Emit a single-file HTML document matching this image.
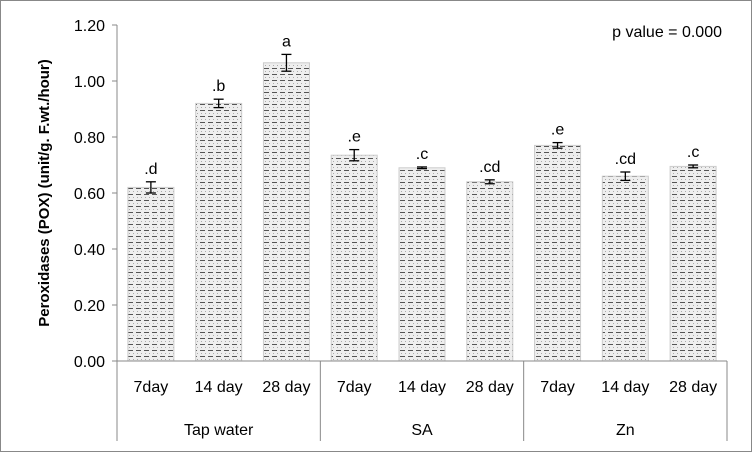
<!DOCTYPE html>
<html><head><meta charset="utf-8"><style>
body{margin:0;background:#fff}
svg{display:block;font-family:"Liberation Sans",Calibri,sans-serif}
</style></head><body>
<svg width="752" height="452" viewBox="0 0 752 452">
<defs>
<pattern id="dash" width="8" height="6" patternUnits="userSpaceOnUse">
<rect width="8" height="6" fill="#eeeeee"/>
<line x1="0" y1="2.5" x2="5" y2="2.5" stroke="#555" stroke-width="1"/>
<rect x="1" y="5" width="1" height="1" fill="#aaa"/><rect x="5" y="5" width="1" height="1" fill="#aaa"/>
</pattern>
</defs>
<rect x="0.5" y="0.5" width="751" height="451" fill="#fff" stroke="#888"/>
<g id="yaxis"></g><g id="bars"></g><g id="xaxis"></g>
<text x="722" y="37" font-size="16" text-anchor="end">p value = 0.000</text>
<text transform="translate(49,193) rotate(-90)" font-size="15" font-weight="bold" text-anchor="middle">Peroxidases (POX) (unit/g. F.wt./hour)</text>
</svg>
<script>
const categories=["7day","14 day","28 day","7day","14 day","28 day","7day","14 day","28 day"];
const groups=["Tap water","SA","Zn"];
const values=[0.62,0.92,1.065,0.735,0.69,0.64,0.77,0.66,0.695];
const errors=[0.02,0.015,0.03,0.02,0.003,0.007,0.01,0.015,0.005];
const letters=[".d",".b","a",".e",".c",".cd",".e",".cd",".c"];
const yTicks=[0,0.2,0.4,0.6,0.8,1.0,1.2];
const NS="http://www.w3.org/2000/svg";
const x0=117,x1=727,y0=361,y1=25,ymax=1.2;
const y=v=>y0-(v/ymax)*(y0-y1);
const cw=(x1-x0)/categories.length;
const cx=i=>x0+cw*(i+0.5);
function mk(t,a,p,txt){const e=document.createElementNS(NS,t);for(const k in a)e.setAttribute(k,a[k]);if(txt!==undefined)e.textContent=txt;p.appendChild(e);return e;}
const ya=document.getElementById('yaxis'),bg=document.getElementById('bars'),xa=document.getElementById('xaxis');
mk('line',{x1:x0,y1:y1,x2:x0,y2:y0,stroke:'#888'},ya);
yTicks.forEach(t=>{
 mk('line',{x1:x0-5,y1:y(t),x2:x0,y2:y(t),stroke:'#888'},ya);
 const e=mk('text',{x:x0-12,y:y(t)+6,'font-size':16,'text-anchor':'end'},ya,t.toFixed(2));
 
 
});
const bw=46;
values.forEach((v,i)=>{
 const r=mk('rect',{x:cx(i)-bw/2,y:y(v),width:bw,height:y0-y(v),fill:'url(#dash)',stroke:'#ccc','stroke-width':1},bg);
 
 
 const eh=y(v-errors[i]),el=y(v+errors[i]);
 const g=mk('g',{stroke:'#000','stroke-width':1.3},bg);
 
 
 mk('line',{x1:cx(i),y1:el,x2:cx(i),y2:eh},g);
 mk('line',{x1:cx(i)-5,y1:el,x2:cx(i)+5,y2:el},g);
 mk('line',{x1:cx(i)-5,y1:eh,x2:cx(i)+5,y2:eh},g);
 const t=mk('text',{x:cx(i),y:el-8,'font-size':16,'text-anchor':'middle'},bg,letters[i]);
 
 
 const c=mk('text',{x:cx(i),y:392,'font-size':16,'text-anchor':'middle'},xa,categories[i]);
 
 
});
mk('line',{x1:x0,y1:y0,x2:x1,y2:y0,stroke:'#888'},xa);
for(let g=0;g<=groups.length;g++){
 const gx=x0+g*cw*3;
 mk('line',{x1:gx,y1:y0,x2:gx,y2:441,stroke:'#888'},xa);
 if(g<groups.length){
  const t=mk('text',{x:gx+cw*1.5,y:435,'font-size':16,'text-anchor':'middle'},xa,groups[g]);
  
  
 }
}
</script>
</body></html>
